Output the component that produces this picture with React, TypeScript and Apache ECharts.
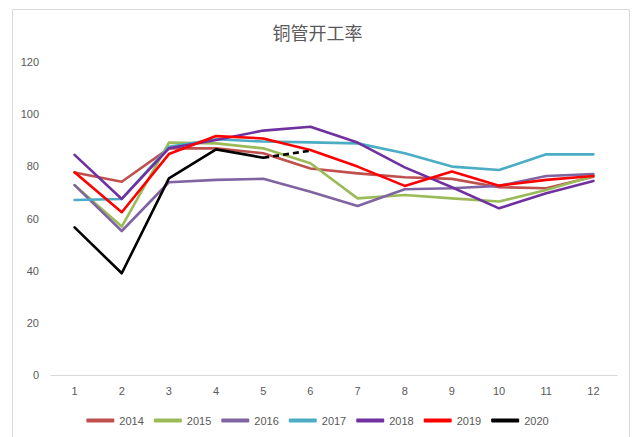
import React, { useEffect, useRef } from "react";
import * as echarts from "echarts";

const categories = ["1", "2", "3", "4", "5", "6", "7", "8", "9", "10", "11", "12"];
const yAxisTicks = [0, 20, 40, 60, 80, 100, 120];
const years = ["2014", "2015", "2016", "2017", "2018", "2019", "2020"];
const colors = ["#C0504D", "#9BBB59", "#8064A2", "#4BACC6", "#7030A0", "#FF0000", "#000000"];

const s2014 = [77.6, 74.1, 86.9, 86.9, 85.0, 79.2, 77.3, 75.8, 75.2, 72.0, 71.6, 76.0];
const s2015 = [72.8, 56.9, 89.1, 88.8, 86.9, 81.2, 67.7, 69.0, 67.7, 66.5, 70.9, 76.3];
const s2016 = [72.8, 55.2, 73.9, 74.8, 75.2, 70.3, 64.8, 71.2, 71.6, 72.5, 76.3, 77.0];
const s2017 = [67.1, 67.5, 87.5, 90.4, 89.5, 89.2, 88.8, 85.0, 79.9, 78.6, 84.6, 84.6];
const s2018 = [84.4, 67.5, 86.9, 90.1, 93.7, 95.2, 89.1, 79.6, 72.0, 63.9, 69.7, 74.4];
const s2019 = [77.7, 62.4, 84.7, 91.6, 90.7, 86.3, 79.9, 72.5, 78.0, 72.6, 74.8, 76.3];
const s2020 = [56.6, 39.0, 75.4, 86.5, 83.3, null, null, null, null, null, null, null];
const s2020Dashed = [null, null, null, null, 83.3, 86.0, null, null, null, null, null, null];

const seriesData = [s2014, s2015, s2016, s2017, s2018, s2019, s2020];

export default function App() {
  const ref = useRef<HTMLDivElement>(null);
  useEffect(() => {
    if (!ref.current) return;
    const chart = echarts.init(ref.current, null, { renderer: "svg" });
    const lineSeries: any[] = years.map((y, i) => ({
      name: y,
      type: "line",
      data: seriesData[i],
      showSymbol: false,
      symbol: "none",
      connectNulls: false,
      lineStyle: { color: colors[i], width: 2.6, cap: "round", join: "round" },
      itemStyle: { color: colors[i] },
      z: 2 + i,
    }));
    lineSeries.push({
      name: "2020预计",
      type: "line",
      data: s2020Dashed,
      showSymbol: false,
      symbol: "none",
      lineStyle: { color: "#000000", width: 2.6, type: [6, 4] },
      itemStyle: { color: "#000000" },
      z: 10,
    });
    chart.setOption({
      animation: false,
      backgroundColor: "#ffffff",
      title: {
        text: "铜管开工率",
        left: "center",
        top: 18,
        textStyle: {
          fontFamily: "Noto Sans CJK SC",
          fontSize: 18,
          fontWeight: "normal",
          color: "#595959",
        },
      },
      graphic: [
        {
          type: "rect",
          shape: { x: 12.5, y: 9.5, width: 617, height: 440 },
          style: { fill: "none", stroke: "#D9D9D9", lineWidth: 1 },
          silent: true,
        },
      ],
      legend: {
        data: years.map((y, i) => ({ name: y, itemStyle: { color: colors[i] } })),
        bottom: 6,
        left: "center",
        icon: "roundRect",
        itemWidth: 28,
        itemHeight: 4,
        itemGap: 10,
        textStyle: { fontFamily: "Liberation Sans", fontSize: 11, color: "#595959" },
      },
      grid: { left: 51, right: 18, top: 62, bottom: 62 },
      xAxis: {
        type: "category",
        data: categories,
        boundaryGap: true,
        axisLine: { lineStyle: { color: "#D9D9D9", width: 1 } },
        axisTick: { show: false },
        axisLabel: { color: "#595959", fontFamily: "Liberation Sans", fontSize: 11, margin: 10 },
      },
      yAxis: {
        type: "value",
        min: yAxisTicks[0],
        max: yAxisTicks[yAxisTicks.length - 1],
        interval: 20,
        splitLine: { show: false },
        axisLine: { show: false },
        axisTick: { show: false },
        axisLabel: { color: "#595959", fontFamily: "Liberation Sans", fontSize: 11, margin: 12 },
      },
      series: lineSeries,
    });
    return () => chart.dispose();
  }, []);
  return (
    <div
      ref={ref}
      style={{ position: "fixed", left: 0, top: 0, width: 635, height: 437 }}
    />
  );
}
